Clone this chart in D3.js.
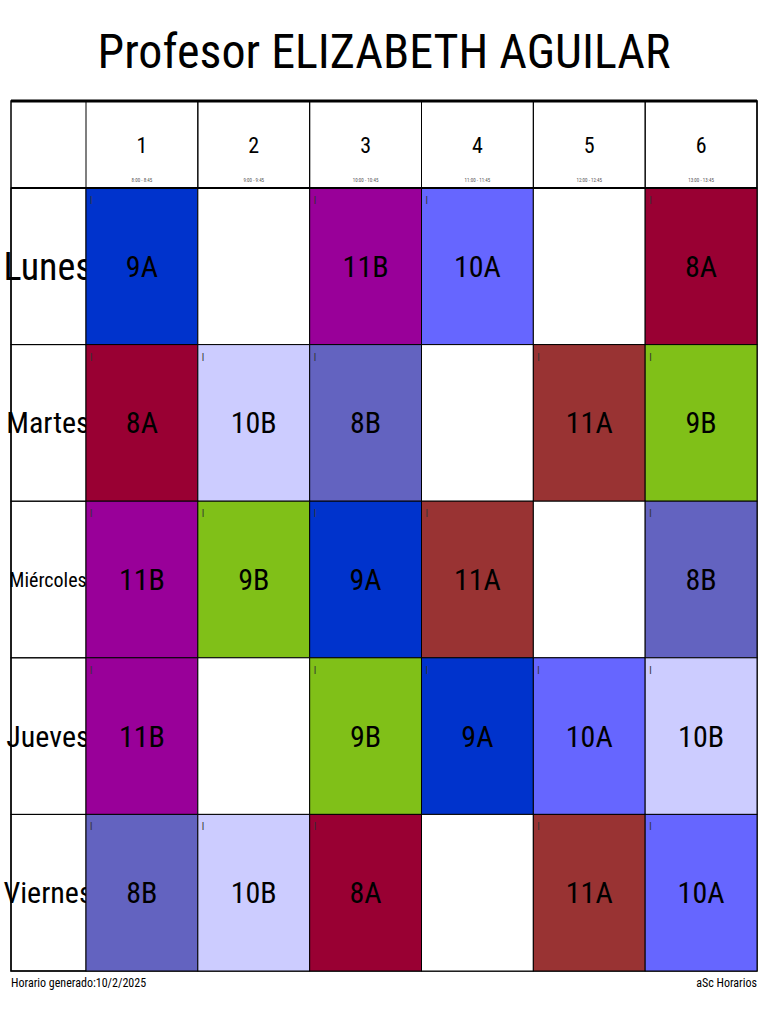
<!DOCTYPE html>
<html><head><meta charset="utf-8">
<script src="https://cdn.jsdelivr.net/npm/d3@7"></script>
<style>body{margin:0;background:#fff}text{font-family:"Liberation Sans Narrow","Roboto Condensed","Liberation Sans",sans-serif}</style>
</head><body><svg id="c" width="768" height="1024"></svg>
<script>
const periods=["1","2","3","4","5","6"];
const times=["8:00 - 8:45","9:00 - 9:45","10:00 - 10:45","11:00 - 11:45","12:00 - 12:45","13:00 - 13:45"];
const days=["Lunes","Martes","Miércoles","Jueves","Viernes"];
const dayFont=[38,30,20,30,30];
const schedule=[
 ["9A","","11B","10A","","8A"],
 ["8A","10B","8B","","11A","9B"],
 ["11B","9B","9A","11A","","8B"],
 ["11B","","9B","9A","10A","10B"],
 ["8B","10B","8A","","11A","10A"]];
const groups=["9A","11B","10A","8A","10B","8B","11A","9B"];
const groupColors=["#0033cc","#990099","#6666ff","#990033","#ccccff","#6363c0","#993333","#80c018"];
const color=d3.scaleOrdinal(groups,groupColors);
const svg=d3.select("#c");
const x=d3.scaleBand(periods,[86,757]);
const y=d3.scaleBand(days,[188,971]);
svg.append("text").attr("x",384).attr("y",68).attr("text-anchor","middle").attr("font-size",48).text("Profesor ELIZABETH AGUILAR");
// header
svg.append("rect").attr("x",11).attr("y",101).attr("width",746).attr("height",870).attr("fill","none").attr("stroke","#000").attr("stroke-width",1.5);
svg.append("line").attr("x1",11).attr("x2",757).attr("y1",101).attr("y2",101).attr("stroke","#000").attr("stroke-width",3);
periods.forEach((p,i)=>{
 svg.append("rect").attr("x",x(p)).attr("y",101).attr("width",x.bandwidth()).attr("height",87).attr("fill","none").attr("stroke","#000");
 svg.append("text").attr("x",x(p)+x.bandwidth()/2).attr("y",153).attr("text-anchor","middle").attr("font-size",22).text(p);
 svg.append("text").attr("x",x(p)+x.bandwidth()/2).attr("y",182).attr("text-anchor","middle").attr("font-size",5).attr("fill","#555").text(times[i]);
});
days.forEach((d,r)=>{
 svg.append("rect").attr("x",11).attr("y",y(d)).attr("width",75).attr("height",y.bandwidth()).attr("fill","none").attr("stroke","#000");
 svg.append("text").attr("x",48).attr("y",y(d)+y.bandwidth()/2).attr("dy","0.35em").attr("text-anchor","middle").attr("font-size",dayFont[r]).text(d);
 periods.forEach((p,c)=>{
  const g=schedule[r][c];
  svg.append("rect").attr("x",x(p)).attr("y",y(d)).attr("width",x.bandwidth()).attr("height",y.bandwidth()).attr("fill",g?color(g):"#fff").attr("stroke","#000");
  if(g){
   svg.append("text").attr("x",x(p)+4).attr("y",y(d)+16).attr("font-size",10).attr("fill","#333").text("I");
   svg.append("text").attr("x",x(p)+x.bandwidth()/2).attr("y",y(d)+y.bandwidth()/2).attr("dy","0.35em").attr("text-anchor","middle").attr("font-size",30).text(g);
  }
 });
});
svg.append("line").attr("x1",11).attr("x2",757).attr("y1",188).attr("y2",188).attr("stroke","#000").attr("stroke-width",2);
svg.append("text").attr("x",11).attr("y",987).attr("font-size",12).text("Horario generado:10/2/2025");
svg.append("text").attr("x",757).attr("y",987).attr("text-anchor","end").attr("font-size",12).text("aSc Horarios");
</script></body></html>
